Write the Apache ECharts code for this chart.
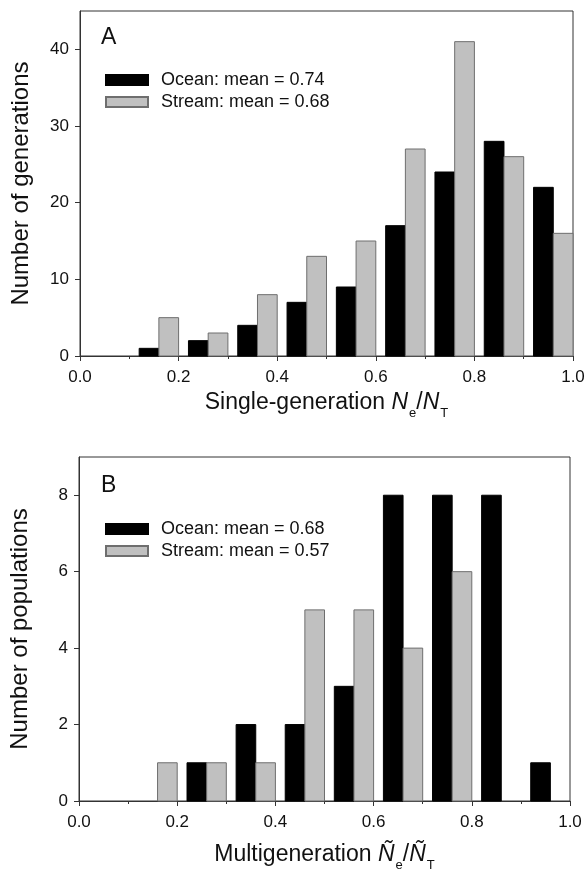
<!DOCTYPE html>
<html>
<head>
<meta charset="utf-8">
<script src="https://cdn.jsdelivr.net/npm/echarts@6/dist/echarts.min.js"></script>
<style>
  html, body { margin: 0; padding: 0; background: #fff; }
  #main { width: 588px; height: 873px; }
</style>
</head>
<body>
<div id="main"></div>
<script>
// bin starts (width 0.1)
let binStarts = [0.0, 0.1, 0.2, 0.3, 0.4, 0.5, 0.6, 0.7, 0.8, 0.9];
// panel A: single-generation Ne/NT, number of generations
let oceanA = [0, 1, 2, 4, 7, 9, 17, 24, 28, 22];
let streamA = [0, 5, 3, 8, 13, 15, 27, 41, 26, 16];
// panel B: multigeneration, number of populations
let oceanB = [0, 0, 1, 2, 2, 3, 8, 8, 8, 1];
let streamB = [0, 1, 1, 1, 5, 5, 4, 6, 0, 0];

let namesA = ['Ocean: mean = 0.74', 'Stream: mean = 0.68'];
let namesB = ['Ocean: mean = 0.68', 'Stream: mean = 0.57'];
let yTicksA = [0, 10, 20, 30, 40];
let yTicksB = [0, 2, 4, 6, 8];

let chart = echarts.init(document.getElementById('main'));
let font = 'Liberation Sans, Arial, Helvetica, sans-serif';
let oceanStyle = { color: '#000000', borderColor: '#000000', borderWidth: 1 };
let streamStyle = { color: '#c0c0c0', borderColor: '#6e6e6e', borderWidth: 1 };

function pairs(vals) {
    return binStarts.map(function (b, i) { return [b, vals[i]]; });
}

// each bin: gap 0.02, ocean 0.04, stream 0.04
function barRenderer(offset, st) {
    return function (params, api) {
        let x = api.value(0);
        let v = api.value(1);
        if (!v) return null;
        let p0 = api.coord([x + offset, v]);
        let p1 = api.coord([x + offset + 0.04, 0]);
        return {
            type: 'rect',
            shape: { x: p0[0], y: p0[1], width: p1[0] - p0[0], height: p1[1] - p0[1] },
            style: { fill: st.color, stroke: st.borderColor, lineWidth: 1 }
        };
    };
}

function xAxisFor(idx, name, gap) {
    return {
        type: 'value', gridIndex: idx, min: 0, max: 1, interval: 0.2,
        name: name, nameLocation: 'middle', nameGap: gap,
        nameTextStyle: {
            fontFamily: font, color: '#111',
            rich: {
                n: { fontSize: 23, fontFamily: font, color: '#111', verticalAlign: 'top', lineHeight: 25 },
                i: { fontSize: 23, fontFamily: font, color: '#111', fontStyle: 'italic', verticalAlign: 'top', lineHeight: 25 },
                s: { fontSize: 13, fontFamily: font, color: '#111', verticalAlign: 'top', lineHeight: 13, padding: [16, 0, 0, 1] }
            }
        },
        axisLine: { show: true, lineStyle: { color: '#333', width: 1 } },
        axisTick: { show: true, inside: false, length: 5, lineStyle: { color: '#333' } },
        minorTick: { show: true, splitNumber: 2, length: 3, lineStyle: { color: '#333' } },
        axisLabel: {
            fontSize: 17, fontFamily: font, color: '#111', margin: 13,
            formatter: function (v) { return v.toFixed(1); }
        },
        splitLine: { show: false }
    };
}

function yAxisFor(idx, name, max, interval, ticks) {
    return {
        type: 'value', gridIndex: idx, min: 0, max: max, interval: interval,
        name: name, nameLocation: 'middle', nameGap: 47,
        nameTextStyle: { fontSize: 24, fontFamily: font, color: '#111' },
        axisLine: { show: true, lineStyle: { color: '#333', width: 1 } },
        axisTick: { show: true, inside: false, length: 5, customValues: ticks, lineStyle: { color: '#333' } },
        axisLabel: { fontSize: 17, fontFamily: font, color: '#111', margin: 11, customValues: ticks },
        splitLine: { show: false }
    };
}

function legendFor(top, names) {
    return {
        orient: 'vertical', left: 100, top: top,
        icon: 'rect', itemWidth: 42, itemHeight: 10, itemGap: 4,
        selectedMode: false,
        textStyle: { fontSize: 18, fontFamily: font, color: '#111', padding: [0, 0, 0, 8] },
        data: names
    };
}

let option = {
    backgroundColor: '#fff',
    animation: false,
    title: [
        { text: 'A', left: 96, top: 21, textStyle: { fontSize: 23, fontWeight: 'normal', fontFamily: font, color: '#111' } },
        { text: 'B', left: 96, top: 469, textStyle: { fontSize: 23, fontWeight: 'normal', fontFamily: font, color: '#111' } }
    ],
    grid: [
        { left: 80, top: 11, width: 493, height: 345, show: true, borderColor: '#333', borderWidth: 1, backgroundColor: 'transparent' },
        { left: 77, top: 457, width: 493, height: 345, show: true, borderColor: '#333', borderWidth: 1, backgroundColor: 'transparent' }
    ],
    legend: [legendFor(66, namesA), legendFor(515, namesB)],
    xAxis: [
        xAxisFor(0, '{n|Single-generation }{i|N}{s|e}{n|/}{i|N}{s|T}', 35),
        xAxisFor(1, '{n|Multigeneration }{i|Ñ}{s|e}{n|/}{i|Ñ}{s|T}', 42)
    ],
    yAxis: [
        yAxisFor(0, 'Number of generations', 45, 10, yTicksA),
        yAxisFor(1, 'Number of populations', 9, 2, yTicksB)
    ],
    series: [
        { type: 'custom', name: namesA[0], xAxisIndex: 0, yAxisIndex: 0, itemStyle: oceanStyle,
          renderItem: barRenderer(0.02, oceanStyle), encode: { x: 0, y: 1 }, data: pairs(oceanA) },
        { type: 'custom', name: namesA[1], xAxisIndex: 0, yAxisIndex: 0, itemStyle: streamStyle,
          renderItem: barRenderer(0.06, streamStyle), encode: { x: 0, y: 1 }, data: pairs(streamA) },
        { type: 'custom', name: namesB[0], xAxisIndex: 1, yAxisIndex: 1, itemStyle: oceanStyle,
          renderItem: barRenderer(0.02, oceanStyle), encode: { x: 0, y: 1 }, data: pairs(oceanB) },
        { type: 'custom', name: namesB[1], xAxisIndex: 1, yAxisIndex: 1, itemStyle: streamStyle,
          renderItem: barRenderer(0.06, streamStyle), encode: { x: 0, y: 1 }, data: pairs(streamB) }
    ]
};

chart.setOption(option);
</script>
</body>
</html>
